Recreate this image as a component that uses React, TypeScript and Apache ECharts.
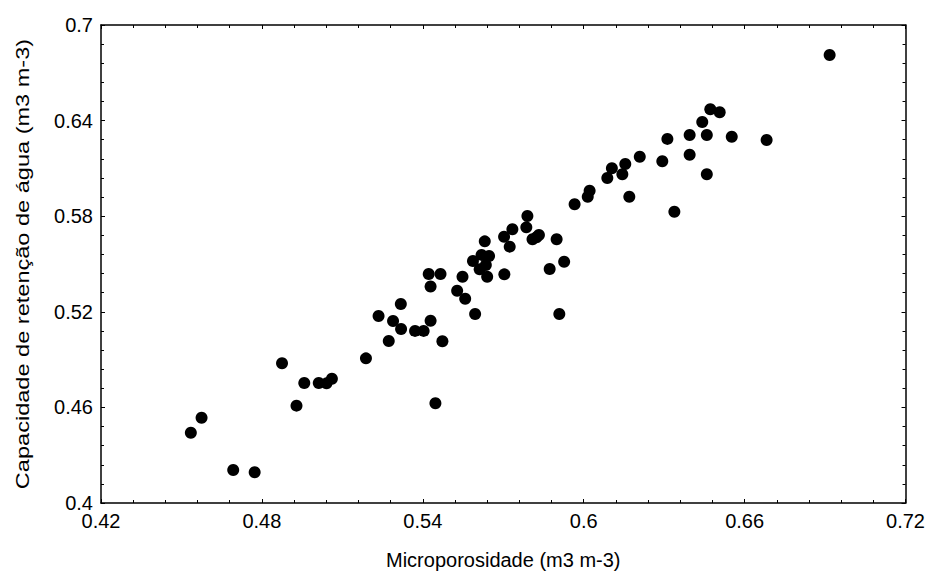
import React, { useEffect, useRef } from "react";
import * as echarts from "echarts";

const xTicks = [0.42, 0.48, 0.54, 0.6, 0.66, 0.72];
const yTicks = [0.4, 0.46, 0.52, 0.58, 0.64, 0.7];

const microporosidade = [
  0.4535, 0.4575, 0.4693, 0.4773, 0.4875, 0.4929, 0.4958, 0.5012, 0.5041, 0.5061,
  0.5188, 0.5235, 0.5273, 0.5289, 0.5318, 0.5319, 0.5371, 0.5403, 0.5429, 0.5429,
  0.5473, 0.5447, 0.5422, 0.5466, 0.5528, 0.5548, 0.5558, 0.5595, 0.5587, 0.5631,
  0.5619, 0.5647, 0.5612, 0.564, 0.5635, 0.5704, 0.5703, 0.5724, 0.5734, 0.579,
  0.5786, 0.5809, 0.5833, 0.5824, 0.5899, 0.5873, 0.5927, 0.5909, 0.5966, 0.6015,
  0.6022, 0.6088, 0.6105, 0.6144, 0.6155, 0.617, 0.6209, 0.6293, 0.6312, 0.6338,
  0.6395, 0.6395, 0.6442, 0.6459, 0.6459, 0.6472, 0.6507, 0.6552, 0.6682, 0.6917,
];

const capacidade = [
  0.4441, 0.4535, 0.4207, 0.4193, 0.4877, 0.4611, 0.4753, 0.4753, 0.4751, 0.478,
  0.4908, 0.5174, 0.5017, 0.5142, 0.5249, 0.5092, 0.508, 0.508, 0.5144, 0.5359,
  0.5015, 0.4626, 0.5437, 0.5437, 0.5332, 0.542, 0.5282, 0.5186, 0.5519, 0.5642,
  0.5557, 0.555, 0.5467, 0.542, 0.5494, 0.5435, 0.5671, 0.5609, 0.5718, 0.5801,
  0.573, 0.5655, 0.5682, 0.5668, 0.5655, 0.5469, 0.5514, 0.5186, 0.5875, 0.5922,
  0.596, 0.604, 0.6101, 0.6063, 0.6128, 0.5922, 0.6173, 0.6145, 0.6285, 0.5828,
  0.631, 0.6186, 0.6391, 0.631, 0.6063, 0.6471, 0.6452, 0.6299, 0.6278, 0.6812,
];

const xTitle = "Microporosidade (m3 m-3)";
const yTitle = "Capacidade de retenção de água (m3 m-3)";

const FONT = "'Liberation Sans', Arial, sans-serif";

export default function App() {
  const ref = useRef<HTMLDivElement>(null);

  useEffect(() => {
    if (!ref.current) return;
    const chart = echarts.init(ref.current, undefined, { renderer: "svg" });
    const points = microporosidade.map((x, i) => [x, capacidade[i]]);
    const fmt = (v: number) => String(+v.toFixed(2));

    const axisCommon = {
      axisLine: { show: true, onZero: false, lineStyle: { color: "#000", width: 1.5 } },
      axisTick: { show: true, inside: true, length: 4, lineStyle: { color: "#000", width: 1 } },
      minorTick: { show: true, splitNumber: 5, length: 3, lineStyle: { color: "#000", width: 1 } },
      splitLine: { show: false },
      minorSplitLine: { show: false },
    };

    chart.setOption({
      animation: false,
      backgroundColor: "#fff",
      grid: { left: 101, right: 22, top: 25, bottom: 74, containLabel: false },
      xAxis: [
        {
          type: "value",
          position: "bottom",
          min: xTicks[0],
          max: xTicks[xTicks.length - 1],
          interval: 0.06,
          ...axisCommon,
          axisLabel: {
            color: "#000",
            fontSize: 20,
            fontFamily: FONT,
            margin: 8,
            formatter: fmt,
          },
          name: xTitle,
          nameLocation: "middle",
          nameGap: 47,
          nameTextStyle: { color: "#000", fontSize: 20, fontFamily: FONT },
        },
        {
          type: "value",
          position: "top",
          min: xTicks[0],
          max: xTicks[xTicks.length - 1],
          interval: 0.06,
          ...axisCommon,
          axisLabel: { show: false },
        },
      ],
      yAxis: [
        {
          type: "value",
          position: "left",
          min: yTicks[0],
          max: yTicks[yTicks.length - 1],
          interval: 0.06,
          ...axisCommon,
          axisLabel: {
            color: "#000",
            fontSize: 20,
            fontFamily: FONT,
            margin: 8,
            formatter: fmt,
          },
        },
        {
          type: "value",
          position: "right",
          min: yTicks[0],
          max: yTicks[yTicks.length - 1],
          interval: 0.06,
          ...axisCommon,
          axisLabel: { show: false },
        },
      ],
      graphic: [
        {
          type: "text",
          x: 23,
          y: 264,
          rotation: Math.PI / 2,
          scaleX: 1.24,
          style: {
            text: yTitle,
            fontSize: 19,
            fontFamily: FONT,
            fill: "#000",
            align: "center",
            verticalAlign: "middle",
          },
        },
      ],
      series: [
        {
          type: "scatter",
          xAxisIndex: 0,
          yAxisIndex: 0,
          data: points,
          symbol: "circle",
          symbolSize: 12,
          itemStyle: { color: "#000", opacity: 1 },
          emphasis: { disabled: true },
        },
      ],
    });

    return () => chart.dispose();
  }, []);

  return (
    <div
      ref={ref}
      style={{ position: "absolute", left: 0, top: 0, width: 928, height: 577, background: "#fff" }}
    />
  );
}
